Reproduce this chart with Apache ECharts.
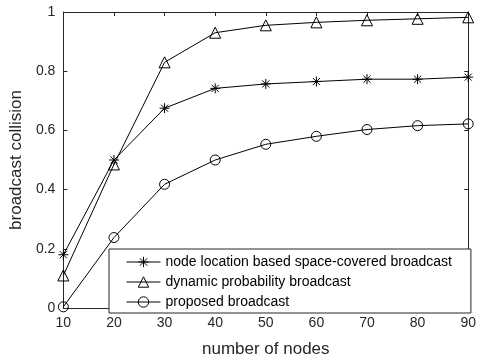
<!DOCTYPE html>
<html>
<head>
<meta charset="utf-8">
<script src="https://cdn.jsdelivr.net/npm/echarts@6/dist/echarts.min.js"></script>
<style>html,body{margin:0;padding:0;background:#fff;}#c{width:479px;height:363px;}</style>
</head>
<body>
<div id="c"></div>
<script>
var nodes = [10, 20, 30, 40, 50, 60, 70, 80, 90];
var nodeLocation = [0.18, 0.50, 0.675, 0.742, 0.757, 0.765, 0.773, 0.773, 0.78];
var dynamicProb = [0.11, 0.485, 0.83, 0.93, 0.955, 0.965, 0.972, 0.977, 0.982];
var proposed = [0.004, 0.238, 0.418, 0.5, 0.553, 0.58, 0.603, 0.616, 0.622];
var seriesNames = ['node location based space-covered broadcast', 'dynamic probability broadcast', 'proposed broadcast'];
var xName = 'number of nodes';
var yName = 'broadcast collision';

var FONT = '"Liberation Sans", Arial, Helvetica, sans-serif';
var AX = '#262626';
var star = 'path://M0,-10L0,10M-10,0L10,0M-7.07,-7.07L7.07,7.07M-7.07,7.07L7.07,-7.07';

function pairs(vals) { return nodes.map(function (x, i) { return [x, vals[i]]; }); }
function mkSeries(name, vals, symbol, size) {
  return {
    name: name, type: 'line', data: pairs(vals), symbol: symbol, symbolSize: size,
    clip: false, animation: false,
    lineStyle: { color: '#000', width: 1 },
    itemStyle: { color: 'transparent', borderColor: '#000', borderWidth: 1 },
    emphasis: { disabled: true }
  };
}

var chart = echarts.init(document.getElementById('c'), null, { renderer: 'canvas' });
chart.setOption({
  animation: false,
  backgroundColor: '#fff',
  grid: { left: 61, right: 7, top: 12, bottom: 51, containLabel: false },
  legend: {
    orient: 'vertical', left: 109, top: 249,
    padding: [6, 19, 4, 17],
    itemWidth: 34, itemHeight: 13, itemGap: 6,
    backgroundColor: '#fff', borderColor: AX, borderWidth: 1,
    lineStyle: { width: 1, color: '#000' },
    itemStyle: { color: 'transparent', borderColor: '#000', borderWidth: 1 },
    textStyle: { fontFamily: FONT, fontSize: 14, color: '#000', lineHeight: 14 },
    data: seriesNames
  },
  xAxis: [{
    type: 'value', min: 10, max: 90, interval: 10,
    name: xName, nameLocation: 'middle', nameGap: 33,
    nameTextStyle: { fontFamily: FONT, fontSize: 17, color: AX },
    axisLine: { show: true, lineStyle: { color: AX, width: 1 } },
    axisTick: { show: true, inside: true, length: 4, lineStyle: { color: AX } },
    axisLabel: { fontFamily: FONT, fontSize: 14, color: AX, margin: 8 },
    splitLine: { show: false }
  }, {
    type: 'value', min: 10, max: 90, interval: 10, position: 'top',
    axisLine: { show: true, onZero: false, lineStyle: { color: AX, width: 1 } },
    axisTick: { show: true, inside: true, length: 4, lineStyle: { color: AX } },
    axisLabel: { show: false }, splitLine: { show: false }
  }],
  yAxis: [{
    type: 'value', min: 0, max: 1, interval: 0.2,
    name: yName, nameLocation: 'middle', nameGap: 35,
    nameTextStyle: { fontFamily: FONT, fontSize: 17, color: AX },
    axisLine: { show: true, onZero: false, lineStyle: { color: AX, width: 1 } },
    axisTick: { show: true, inside: true, length: 4, lineStyle: { color: AX } },
    axisLabel: { fontFamily: FONT, fontSize: 14, color: AX, margin: 8 },
    splitLine: { show: false }
  }, {
    type: 'value', min: 0, max: 1, interval: 0.2, position: 'right',
    axisLine: { show: true, onZero: false, lineStyle: { color: AX, width: 1 } },
    axisTick: { show: true, inside: true, length: 4, lineStyle: { color: AX } },
    axisLabel: { show: false }, splitLine: { show: false }
  }],
  series: [
    mkSeries(seriesNames[0], nodeLocation, star, 10),
    mkSeries(seriesNames[1], dynamicProb, 'triangle', 11),
    mkSeries(seriesNames[2], proposed, 'circle', 10)
  ]
});
</script>
</body>
</html>
